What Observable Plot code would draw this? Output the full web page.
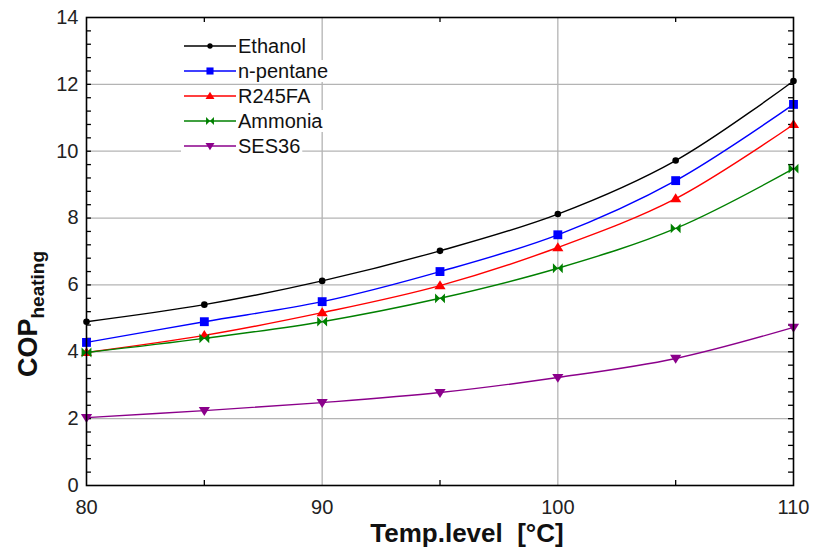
<!DOCTYPE html>
<html><head><meta charset="utf-8">
<script src="https://cdn.jsdelivr.net/npm/d3@7"></script>
<script src="https://cdn.jsdelivr.net/npm/@observablehq/plot@0.6"></script>
<style>body{margin:0;background:#fff}</style>
</head><body><div id="chart"></div>
<script>
const temps = [80, 85, 90, 95, 100, 105, 110];
const seriesNames = ["Ethanol", "n-pentane", "R245FA", "Ammonia", "SES36"];
const ethanol  = [4.9, 5.41, 6.12, 7.02, 8.12, 9.72, 12.1];
const npentane = [4.28, 4.9, 5.5, 6.4, 7.5, 9.12, 11.4];
const r245fa   = [3.98, 4.49, 5.17, 5.98, 7.12, 8.58, 10.8];
const ammonia  = [3.98, 4.4, 4.9, 5.6, 6.5, 7.69, 9.48];
const ses36    = [2.03, 2.24, 2.48, 2.78, 3.23, 3.8, 4.73];
const yTicks = [0, 2, 4, 6, 8, 10, 12, 14];
const xTicks = [80, 90, 100, 110];
const xMinor = [85, 95, 105];

const colors = ["#000000", "#0000ff", "#ff0000", "#008000", "#8b008b"];
const triDown = {draw(c, size){const r = Math.sqrt(size/1.3); c.moveTo(-r,-r*0.65); c.lineTo(r,-r*0.65); c.lineTo(0,r*0.95); c.closePath();}};
const triUp = {draw(c, size){const r = Math.sqrt(size/1.3); c.moveTo(-r,r*0.65); c.lineTo(r,r*0.65); c.lineTo(0,-r*0.95); c.closePath();}};
const bowtie = {draw(c, size){const r = Math.sqrt(size)/1.8; c.moveTo(-r,-r); c.lineTo(r,r); c.lineTo(r,-r); c.lineTo(-r,r); c.closePath();}};
const symbols = ["circle", "square", triUp, bowtie, triDown];
const sizes = [3.3, 5.0, 3.6, 5.0, 3.6];

const allValues = [ethanol, npentane, r245fa, ammonia, ses36];
const data = allValues.flatMap((vals, s) => vals.map((v, i) => ({series: seriesNames[s], x: temps[i], y: v, s})));
const yMinor = d3.range(1, 35).map(i => +(i * 0.4).toFixed(1));

const x0 = 80, x1 = 110, y0 = 0, y1 = 14;
const tx = 0.21, ty = 0.15; // tick length in data units (~5px)
const marks = [
  Plot.gridY({ticks: yTicks.slice(1, -1), stroke: "#b4b4b4", strokeOpacity: 1, strokeWidth: 1.3}),
  Plot.gridX({ticks: xTicks.slice(1, -1), stroke: "#b4b4b4", strokeOpacity: 1, strokeWidth: 1.3}),
  Plot.ruleY(yMinor, {y: d => d, x1: x0, x2: x0 + tx, stroke: "#000", strokeWidth: 1.3}),
  Plot.ruleY(yMinor, {y: d => d, x1: x1 - tx, x2: x1, stroke: "#000", strokeWidth: 1.3}),
  Plot.ruleX(xMinor, {x: d => d, y1: y0, y2: y0 + ty, stroke: "#000", strokeWidth: 1.3}),
  Plot.ruleX(xMinor, {x: d => d, y1: y1 - ty, y2: y1, stroke: "#000", strokeWidth: 1.3}),
  Plot.axisY({ticks: yTicks, tickSize: 0, tickPadding: 8, fontSize: 20, fill: "#222", label: null, tickFormat: d => d}),
  Plot.axisX({ticks: xTicks, tickSize: 0, tickPadding: 14, fontSize: 20, fill: "#222", label: null, tickFormat: d => d}),
];
seriesNames.forEach((name, s) => {
  const d = data.filter(r => r.s === s);
  marks.push(Plot.line(d, {x: "x", y: "y", stroke: colors[s], strokeWidth: 1.4, curve: "catmull-rom"}));
  marks.push(Plot.dot(d, {x: "x", y: "y", fill: colors[s], stroke: "none", symbol: () => symbols[s], r: sizes[s]}));
});
marks.push(Plot.frame({stroke: "#000", strokeWidth: 1.6}));

const chart = Plot.plot({
  width: 813, height: 551,
  marginLeft: 86, marginRight: 20, marginTop: 17, marginBottom: 66,
  style: {fontFamily: "Liberation Sans, Arial, sans-serif", background: "#fff"},
  x: {domain: [x0, x1]},
  y: {domain: [y0, y1]},
  symbol: {type: "identity"},
  marks
});
document.getElementById("chart").append(chart);

const svg = d3.select(chart);
const FF = "Liberation Sans, Arial, sans-serif";
svg.append("text").attr("x", 467).attr("y", 542).attr("text-anchor", "middle")
  .attr("font-family", FF).attr("font-weight", "bold").attr("font-size", 26)
  .attr("fill", "#111").attr("xml:space", "preserve").text("Temp.level  [°C]");
const yl = svg.append("text").attr("transform", "translate(37,314) rotate(-90)").attr("text-anchor", "middle")
  .attr("font-family", FF).attr("font-weight", "bold").attr("font-size", 27).attr("fill", "#111");
yl.append("tspan").text("COP");
yl.append("tspan").attr("font-size", 19).attr("dy", 7).text("heating");

// Legend
const lg = svg.append("g");
seriesNames.forEach((name, s) => {
  const y = 46 + 25 * s;
  const g = lg.append("g").attr("transform", `translate(0,${y})`);
  const t = g.append("text").attr("x", 238).attr("y", 0).attr("dy", "0.36em").attr("font-size", 20)
    .attr("text-anchor", "start").attr("font-family", FF).attr("fill", "#111").text(name);
  const tw = t.node().getComputedTextLength();
  g.insert("rect", "text").attr("x", 181).attr("y", -11).attr("width", 57 + tw + 2).attr("height", 22).attr("fill", "#fff");
  g.insert("line", "text").attr("x1", 184).attr("x2", 236).attr("y1", 0).attr("y2", 0).attr("stroke", colors[s]).attr("stroke-width", 1.4);
  const type = symbols[s] === "circle" ? d3.symbolCircle : symbols[s] === "square" ? d3.symbolSquare : symbols[s];
  const sym = d3.symbol(type, Math.PI * (sizes[s] * 0.8) ** 2);
  g.insert("path", "text").attr("transform", "translate(210,0)").attr("d", sym()).attr("fill", colors[s]);
});
</script>
</body></html>
